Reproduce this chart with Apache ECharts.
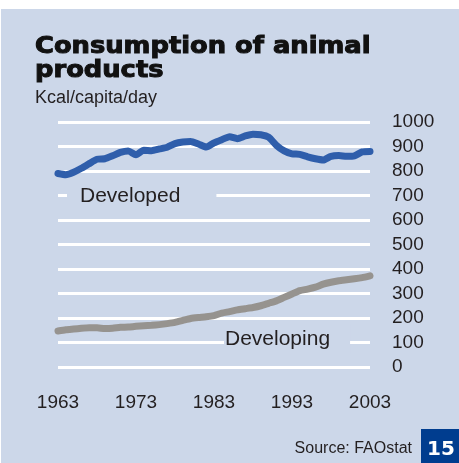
<!DOCTYPE html>
<html>
<head>
<meta charset="utf-8">
<script src="https://cdn.jsdelivr.net/npm/echarts@6/dist/echarts.min.js"></script>
<style>
html,body{margin:0;padding:0;background:#ffffff;}
#chart{width:459px;height:463px;}
</style>
</head>
<body>
<div id="chart"></div>
<script>
var years = ['1963','1964','1965','1966','1967','1968','1969','1970','1971','1972',
  '1973','1974','1975','1976','1977','1978','1979','1980','1981','1982',
  '1983','1984','1985','1986','1987','1988','1989','1990','1991','1992',
  '1993','1994','1995','1996','1997','1998','1999','2000','2001','2002','2003'];
var developed = [790,785,795,811,830,848,850,862,876,882,
  866,885,883,890,897,912,918,920,910,898,
  915,928,940,932,943,950,948,938,905,882,
  870,868,858,850,845,860,863,860,862,878,880];
var developing = [147,152,155,158,160,160,157,158,162,163,
  166,168,170,173,177,182,190,198,202,205,
  210,220,226,233,238,243,250,260,270,284,
  298,312,318,326,338,346,352,356,360,365,372];
var yTicks = {min:0, max:1000, interval:100};

var panel = '#CCD7E9';
var chart = echarts.init(document.getElementById('chart'));
chart.setOption({
  backgroundColor: '#ffffff',
  animation: false,
  grid: {left: 58, right: 89, top: 122, bottom: 96},
  xAxis: {
    type: 'category',
    data: years,
    boundaryGap: false,
    axisLine: {show: false},
    axisTick: {show: false},
    splitLine: {show: false},
    axisLabel: {interval: 9, margin: 26, fontSize: 19, color: '#231F20', fontFamily: 'Liberation Sans, Arial, sans-serif'}
  },
  yAxis: {
    type: 'value',
    position: 'right',
    min: yTicks.min, max: yTicks.max, interval: yTicks.interval,
    axisLine: {show: false},
    axisTick: {show: false},
    splitLine: {show: true, lineStyle: {color: '#ffffff', width: 3}},
    axisLabel: {margin: 22, align: 'left', fontSize: 19, color: '#231F20', fontFamily: 'Liberation Sans, Arial, sans-serif',
      formatter: function (v) { return String(v); }}
  },
  series: [
    {name: 'Developed', type: 'line', data: developed, showSymbol: false, smooth: 0.2,
     lineStyle: {color: '#2F5EAB', width: 7, cap: 'round', join: 'round'}},
    {name: 'Developing', type: 'line', data: developing, showSymbol: false, smooth: 0.2,
     lineStyle: {color: '#96938F', width: 7, cap: 'round', join: 'round'}}
  ],
  graphic: [
    {type: 'rect', z: -100, shape: {x: 1, y: 9, width: 458, height: 454}, style: {fill: panel}},
    {type: 'text', z: 100, x: 35, y: 47, scaleX: 1.12,
     style: {text: 'Consumption of animal', fontFamily: 'DejaVu Sans', fontWeight: 'bold', fontSize: 23, fill: '#111111', stroke: '#111111', lineWidth: 1, verticalAlign: 'middle'}},
    {type: 'text', z: 100, x: 35, y: 71, scaleX: 1.12,
     style: {text: 'products', fontFamily: 'DejaVu Sans', fontWeight: 'bold', fontSize: 23, fill: '#111111', stroke: '#111111', lineWidth: 1, verticalAlign: 'middle'}},
    {type: 'text', z: 100, x: 35, y: 98,
     style: {text: 'Kcal/capita/day', fontFamily: 'Liberation Sans, Arial, sans-serif', fontSize: 18, fill: '#231F20', verticalAlign: 'middle'}},
    {type: 'text', z: 100, x: 67, y: 196,
     style: {text: 'Developed', fontFamily: 'Liberation Sans, Arial, sans-serif', fontSize: 21, fill: '#231F20', verticalAlign: 'middle',
       backgroundColor: panel, padding: [4, 36, 4, 13]}},
    {type: 'text', z: 100, x: 224, y: 339,
     style: {text: 'Developing', fontFamily: 'Liberation Sans, Arial, sans-serif', fontSize: 21, fill: '#231F20', verticalAlign: 'middle',
       backgroundColor: panel, padding: [4, 20, 4, 1]}},
    {type: 'text', z: 100, x: 412, y: 449,
     style: {text: 'Source: FAOstat', fontFamily: 'Liberation Sans, Arial, sans-serif', fontSize: 16, fill: '#231F20', align: 'right', verticalAlign: 'middle'}},
    {type: 'rect', z: 100, shape: {x: 421, y: 429, width: 38, height: 34}, style: {fill: '#003D8F'}},
    {type: 'text', z: 101, x: 441, y: 450,
     style: {text: '15', fontFamily: 'DejaVu Sans', fontWeight: 'bold', fontSize: 20, fill: '#ffffff', align: 'center', verticalAlign: 'middle'}}
  ]
});
</script>
</body>
</html>
